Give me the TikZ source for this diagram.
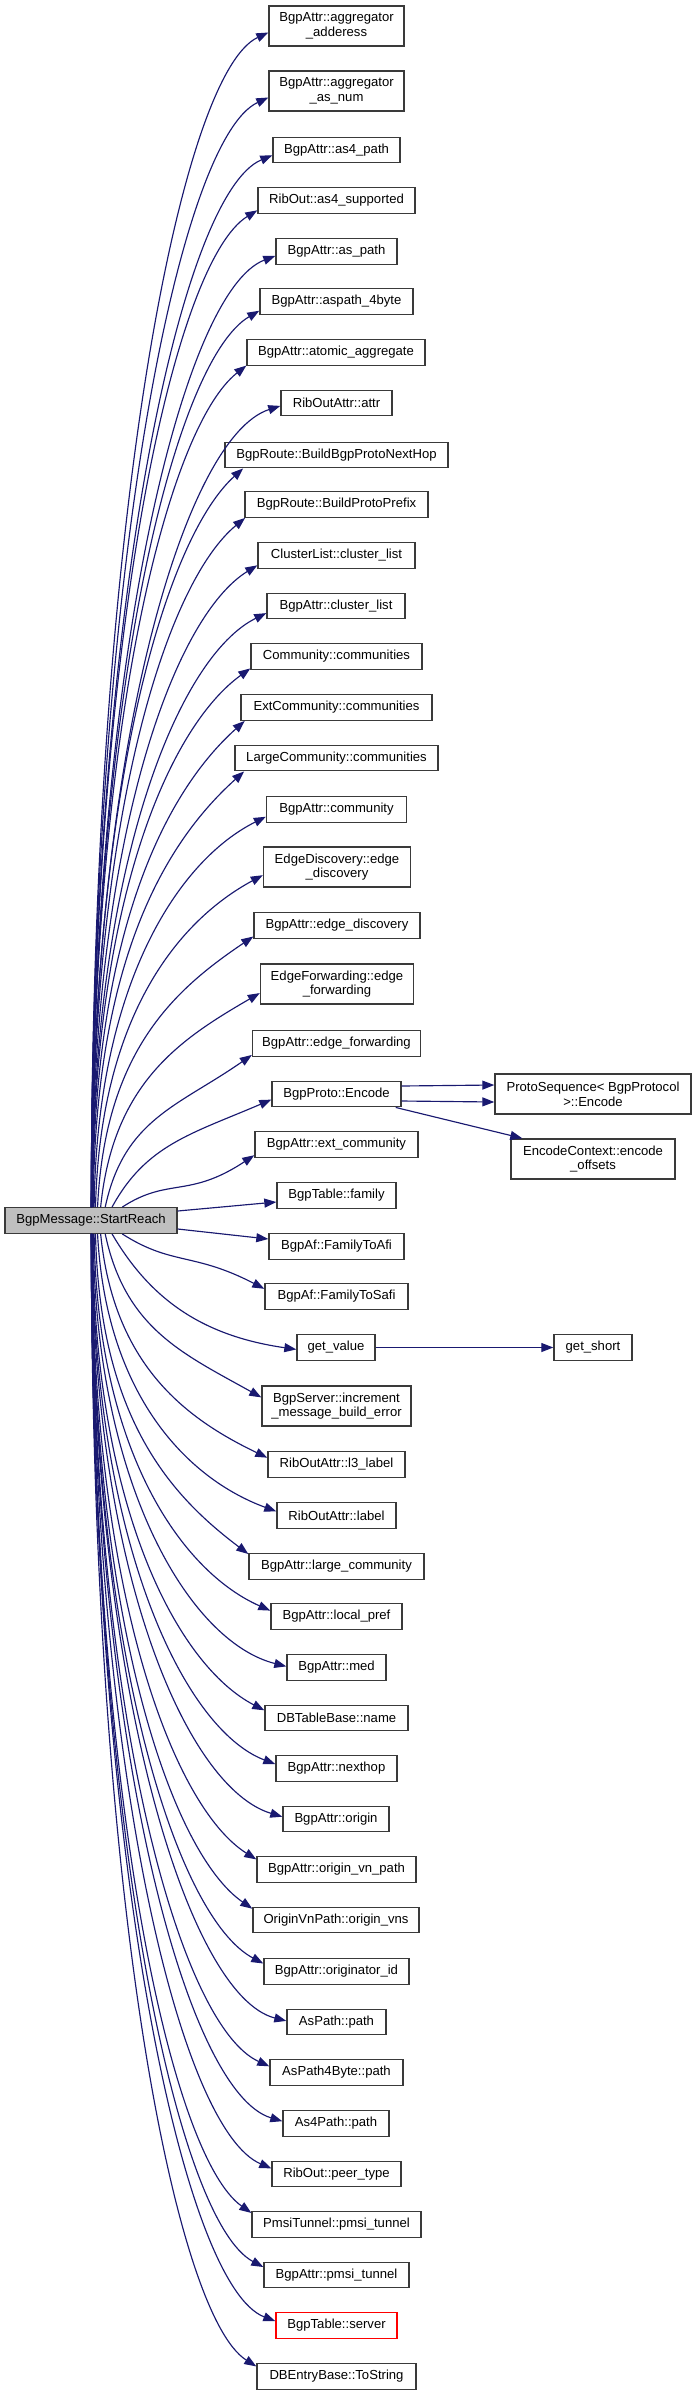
\documentclass[tikz,border=0pt]{standalone}
\usepackage{fontspec}
\setmainfont{Liberation Sans}
\usetikzlibrary{arrows.meta,calc}
\definecolor{edgeblue}{HTML}{191970}
\definecolor{boxline}{HTML}{3A3A3A}
\definecolor{srfill}{HTML}{BFBFBF}
\newcommand\callcurve[3]{%
  \pgfpointanchor{#1}{west}\pgfgetlastxy{\qxw}{\qyw}%
  \pgfpointanchor{#1}{north}\pgfgetlastxy{\qxn}{\qyn}%
  \pgfmathsetmacro\qd{290-\qxw}%
  \pgfmathsetmacro\qhh{\qyn-\qyw}%
  \pgfmathsetmacro\qtm{min(0.3*\qd,\qhh)}%
  \pgfmathsetmacro\qtx{max(0,(0.3*\qd-\qhh)*3)}%
  \pgfmathsetmacro\qth{min(12+0.6*\qd,42)}%
  \pgfmathsetmacro\qsx{87+31*exp(-(#2-1)/2.5)}%
  \pgfmathsetmacro\qf{0.35*exp(-(#2-1)/2)}%
  \pgfmathsetmacro\qkk{-(#3)*0.5*tan(\qth)}%
  \pgfmathsetmacro\qty{(#3)*\qtm}%
  \ifnum#3=1 \def\qanc{north west}\else\def\qanc{south west}\fi
  \draw[call] let \p1=($(sr.\qanc)+(\qsx,0)$), \p2=($(#1.west)+(\qtx,\qty)$) in
    (\p1) .. controls ({\x1+\qf*(\x2-\x1)},{\y1+0.58*(\y2-\y1)}) and ({\x2-0.5*(\x2-\x1)},{\y2+\qkk*(\x2-\x1)}) .. (\p2);
}
\begin{document}
\begin{tikzpicture}[x=1pt,y=-1pt,
  box/.style={draw=boxline, line width=1.4pt, fill=white, rectangle, inner sep=0pt,
    minimum height=25.5pt, align=center, font=\fontsize{13.1}{14.7}\selectfont},
  two/.style={minimum height=40pt},
  call/.style={draw=edgeblue, line width=1.15pt, -{Triangle[length=12pt,width=9pt]}}]
\useasboundingbox (0,0) rectangle (696,2395);

\node[box,two,minimum width=135pt] (n1) at (336.5,26) {BgpAttr::aggregator\\\_adderess};
\node[box,two,minimum width=135pt] (n2) at (336.5,91) {BgpAttr::aggregator\\\_as\_num};
\node[box,minimum width=127pt] (n3) at (336.5,150) {BgpAttr::as4\_path};
\node[box,minimum width=157pt] (n4) at (336.5,200.5) {RibOut::as4\_supported};
\node[box,minimum width=121pt] (n5) at (336.5,251.5) {BgpAttr::as\_path};
\node[box,minimum width=153pt] (n6) at (336.5,301.5) {BgpAttr::aspath\_4byte};
\node[box,minimum width=178pt] (n7) at (336,352.5) {BgpAttr::atomic\_aggregate};
\node[box,minimum width=111pt] (n8) at (336.5,403) {RibOutAttr::attr};
\node[box,minimum width=223pt] (n9) at (336.5,455) {BgpRoute::BuildBgpProtoNextHop};
\node[box,minimum width=183pt] (n10) at (336.5,504.5) {BgpRoute::BuildProtoPrefix};
\node[box,minimum width=157pt] (n11) at (336.5,555.5) {ClusterList::cluster\_list};
\node[box,minimum width=138pt] (n12) at (336,606) {BgpAttr::cluster\_list};
\node[box,minimum width=171pt] (n13) at (336.5,656.5) {Community::communities};
\node[box,minimum width=191pt] (n14) at (336.5,707.5) {ExtCommunity::communities};
\node[box,minimum width=203pt] (n15) at (336.5,758) {LargeCommunity::communities};
\node[box,minimum width=140pt] (n16) at (336.5,809.5) {BgpAttr::community};
\node[box,two,minimum width=147pt] (n17) at (337,867) {EdgeDiscovery::edge\\\_discovery};
\node[box,minimum width=166pt] (n18) at (337,925.5) {BgpAttr::edge\_discovery};
\node[box,two,minimum width=153pt] (n19) at (337,984) {EdgeForwarding::edge\\\_forwarding};
\node[box,minimum width=168pt] (n20) at (336.5,1043.5) {BgpAttr::edge\_forwarding};
\node[box,minimum width=129pt] (n21) at (336.5,1094) {BgpProto::Encode};
\node[box,minimum width=163pt] (n22) at (336.5,1144.5) {BgpAttr::ext\_community};
\node[box,minimum width=119pt] (n23) at (336.5,1195.5) {BgpTable::family};
\node[box,minimum width=135pt] (n24) at (336.5,1246.5) {BgpAf::FamilyToAfi};
\node[box,minimum width=143pt] (n25) at (336.5,1296.5) {BgpAf::FamilyToSafi};
\node[box,minimum width=78pt] (n26) at (336,1347.5) {get\_value};
\node[box,two,minimum width=149pt] (n27) at (336.5,1406) {BgpServer::increment\\\_message\_build\_error};
\node[box,minimum width=137pt] (n28) at (336.5,1464.5) {RibOutAttr::l3\_label};
\node[box,minimum width=119pt] (n29) at (336.5,1515.5) {RibOutAttr::label};
\node[box,minimum width=175pt] (n30) at (336.5,1566.5) {BgpAttr::large\_community};
\node[box,minimum width=131pt] (n31) at (336.5,1616.5) {BgpAttr::local\_pref};
\node[box,minimum width=99pt] (n32) at (336.5,1667.5) {BgpAttr::med};
\node[box,minimum width=143pt] (n33) at (336.5,1718) {DBTableBase::name};
\node[box,minimum width=121pt] (n34) at (336.5,1768.5) {BgpAttr::nexthop};
\node[box,minimum width=106pt] (n35) at (336,1819) {BgpAttr::origin};
\node[box,minimum width=159pt] (n36) at (336.5,1869.5) {BgpAttr::origin\_vn\_path};
\node[box,minimum width=166pt] (n37) at (336,1920) {OriginVnPath::origin\_vns};
\node[box,minimum width=145pt] (n38) at (336.5,1971.5) {BgpAttr::originator\_id};
\node[box,minimum width=99pt] (n39) at (336.5,2022) {AsPath::path};
\node[box,minimum width=133pt] (n40) at (336.5,2072.5) {AsPath4Byte::path};
\node[box,minimum width=106pt] (n41) at (336,2123.5) {As4Path::path};
\node[box,minimum width=129pt] (n42) at (336.5,2174) {RibOut::peer\_type};
\node[box,minimum width=169pt] (n43) at (336.5,2224.5) {PmsiTunnel::pmsi\_tunnel};
\node[box,minimum width=145pt] (n44) at (336.5,2275) {BgpAttr::pmsi\_tunnel};
\node[box,minimum width=121pt,draw=red] (n45) at (336.5,2325.5) {BgpTable::server};
\node[box,minimum width=159pt] (n46) at (336.5,2376.5) {DBEntryBase::ToString};

\node[box,minimum width=172pt,fill=srfill] (sr) at (91,1220.5) {BgpMessage::StartReach};
\node[box,two,minimum width=196pt] (ps) at (593,1094) {ProtoSequence< BgpProtocol\\>::Encode};
\node[box,two,minimum width=164pt] (ec) at (593,1159) {EncodeContext::encode\\\_offsets};
\node[box,minimum width=78pt] (gs) at (593,1347.5) {get\_short};

\foreach \i in {1,...,22} {
  \pgfmathtruncatemacro\qk{23-\i}
  \callcurve{n\i}{\qk}{1}
}
\foreach \i in {25,...,46} {
  \pgfmathtruncatemacro\qk{\i-24}
  \callcurve{n\i}{\qk}{-1}
}
\draw[call] ($(sr.east)+(0,-9.5)$) -- ($(n23.west)+(0,6.5)$);
\draw[call] ($(sr.east)+(0,8.5)$) -- ($(n24.west)+(0,-7.5)$);
\draw[call] ($(n21.east)+(0,-8)$) -- ($(ps.west)+(0,-9)$);
\draw[call] ($(n21.east)+(0,7)$) -- ($(ps.west)+(0,8)$);
\draw[call] ($(n21.south east)+(-6,0)$) -- ($(ec.north west)+(12,0)$);
\draw[call] (n26.east) -- (gs.west);
\end{tikzpicture}
\end{document}
